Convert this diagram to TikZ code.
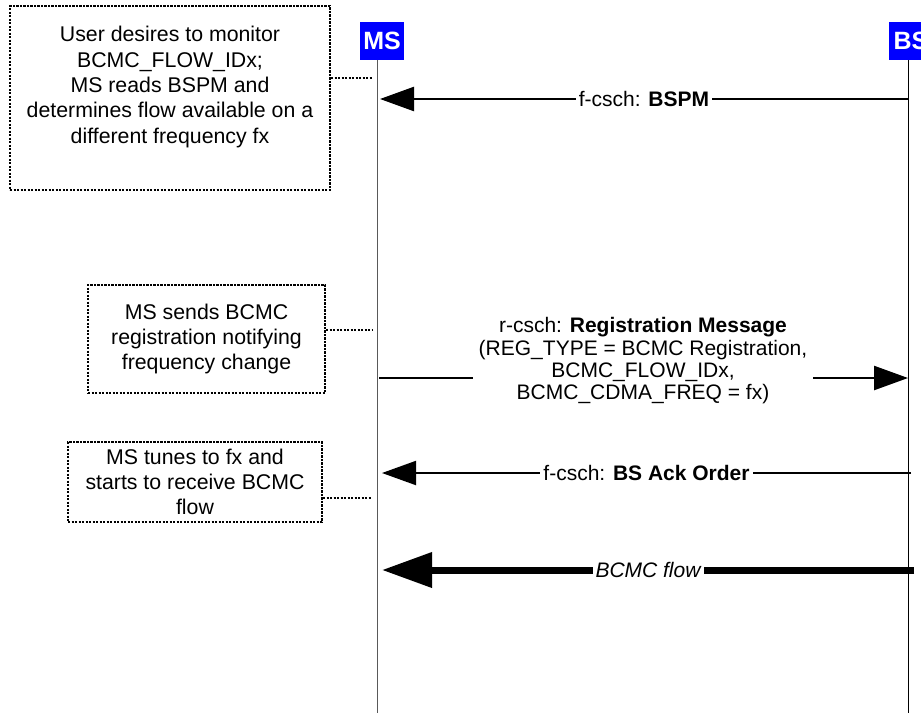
\documentclass[tikz,border=0pt]{standalone}
\usepackage{fontspec}
\setmainfont{Liberation Sans}
\usetikzlibrary{arrows.meta}
\definecolor{hdrblue}{RGB}{0,0,255}
\tikzset{
  note/.style={draw, line width=2.1pt, dash pattern=on 2.1pt off 1.4pt, align=center,
    font=\fontsize{21.3}{25.3}\selectfont, inner sep=0pt},
  dotline/.style={line width=2.1pt, dash pattern=on 2.1pt off 1.4pt},
  hdr/.style={fill=hdrblue, text=white, font=\fontsize{25}{28}\selectfont\bfseries,
    minimum width=44pt, minimum height=38pt, inner sep=0pt},
  life/.style={line width=1pt},
  msg/.style={line width=2.4pt},
  lbl/.style={fill=white, inner xsep=3pt, inner ysep=1pt, align=center,
    font=\fontsize{21}{22.3}\selectfont},
  headS/.style={-{Triangle[length=34pt,width=24pt]}},
  headL/.style={-{Triangle[length=50pt,width=34pt]}}
}
\begin{document}
\begin{tikzpicture}[x=1pt,y=-1pt]
\useasboundingbox (0,0) rectangle (921,713);
\fill[white] (0,0) rectangle (921,713);

% headers
\node[hdr] (ms) at (382,41) {MS};
\node[hdr] (bs) at (911,41) {BS};

% lifelines
\coordinate (msT) at (377,60);
\coordinate (msB) at (377,713);
\coordinate (bsT) at (908,60);
\coordinate (bsB) at (908,713);
\draw[life, black!65] (msT) -- (msB);
\draw[life] (bsT) -- (bsB);

% notes
\node[note, minimum width=320pt, minimum height=184pt] (n1) at (170,98)
  {User desires to monitor\\BCMC\_FLOW\_IDx;\\MS reads BSPM and\\determines flow available on a\\different frequency fx\\[1pt]\mbox{}};
\node[note, minimum width=237pt, minimum height=108pt] (n2) at (206.5,339)
  {MS sends BCMC\\registration notifying\\frequency change};
\node[note, minimum width=254pt, minimum height=80pt] (n3) at (195,482)
  {MS tunes to fx and\\starts to receive BCMC\\flow};

\coordinate (c1) at (373,78);
\coordinate (c2) at (373,330);
\coordinate (c3) at (372,498);
\draw[dotline] (n1.east |- c1) -- (c1);
\draw[dotline] (n2.east |- c2) -- (c2);
\draw[dotline] (n3.east |- c3) -- (c3);

% message 1
\coordinate (m1s) at (908,99);
\coordinate (m1e) at (380,99);
\draw[msg, headS] (m1s) -- node[lbl] {f-csch: \textbf{BSPM}} (m1e);

% message 2
\coordinate (m2s) at (379,378);
\coordinate (m2e) at (908,378);
\draw[msg, headS] (m2s) -- (m2e);
\node[lbl, inner xsep=6pt, fill=white] (l2) at (643,361)
  {r-csch: \textbf{Registration Message}\\(REG\_TYPE = BCMC Registration,\\BCMC\_FLOW\_IDx,\\BCMC\_CDMA\_FREQ = fx)};

% message 3
\coordinate (m3s) at (911,473);
\coordinate (m3e) at (382,473);
\draw[msg, line width=2pt, headS] (m3s) -- node[lbl] {f-csch: \textbf{BS Ack Order}} (m3e);

% message 4
\coordinate (m4s) at (914,570);
\coordinate (m4e) at (382,570);
\draw[msg, line width=7pt, headL] (m4s) -- node[lbl] {\itshape BCMC flow} (m4e);
\end{tikzpicture}
\end{document}
